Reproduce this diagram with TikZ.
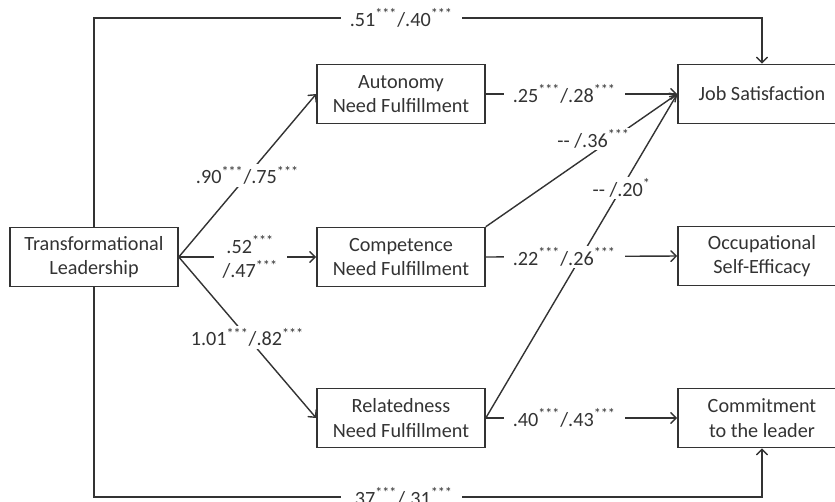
\documentclass[tikz,border=0pt]{standalone}
\usepackage{fontspec}
\setmainfont{Carlito}
\usepackage{tikz}
\usetikzlibrary{arrows}
\definecolor{inkgrey}{rgb}{0.2, 0.2, 0.2}

\begin{document}
\begin{tikzpicture}[x=0.2mm,y=-0.2mm,>=angle 90,
    every node/.style={font=\fontsize{11.5}{14}\selectfont,text=inkgrey},
    box/.style={draw=inkgrey,line width=0.9pt,align=center,minimum width=3.36cm,minimum height=1.18cm,inner sep=2pt},
    path/.style={draw=inkgrey,line width=0.8pt},
    lbl/.style={fill=white,align=center,inner xsep=5pt,inner ysep=1pt}
  ]
\useasboundingbox (0,0) rectangle (835,501);

% boxes
\node[box] (tl) at (94,257)  {Transformational\\Leadership};
\node[box] (au) at (401,94)  {Autonomy\\Need Fulfillment};
\node[box] (co) at (401,257) {Competence\\Need Fulfillment};
\node[box] (re) at (401,418) {Relatedness\\Need Fulfillment};
\node[box] (js) at (762,94)  {Job Satisfaction};
\node[box] (os) at (762,256) {Occupational\\Self-Efficacy};
\node[box] (cm) at (762,418) {Commitment\\to the leader};

\coordinate (tlup) at (94,18);
\coordinate (jsup) at (762,18);
\coordinate (tldown) at (94,497);
\coordinate (cmdown) at (762,497);

% direct paths
\draw[path,->] (tl.north) -- (tlup) -- node[lbl,pos=.46] {.51\textsuperscript{***}/.40\textsuperscript{***}} (jsup) -- (js.north);
\draw[path,->] (tl.south) -- (tldown) -- node[lbl,pos=.46] {.37\textsuperscript{***}/.31\textsuperscript{***}} (cmdown) -- (cm.south);

% a paths
\draw[path,->] (tl.east) -- node[lbl] {.90\textsuperscript{***}/.75\textsuperscript{***}} (au.west);
\draw[path,->] (tl.east) -- node[lbl,pos=.52] {.52\textsuperscript{***}\\/.47\textsuperscript{***}} (co.west);
\draw[path,->] (tl.east) -- node[lbl] {1.01\textsuperscript{***}/.82\textsuperscript{***}} (re.west);

% b paths
\draw[path,->] (co.north east) -- node[lbl,pos=.6,xshift=-4,yshift=4.5] {-{}- /.36\textsuperscript{***}} (js.west);
\draw[path,->] (re.east) -- node[lbl,pos=.71] {-{}- /.20\textsuperscript{*}} (js.west);
\draw[path,->] (au.east) -- node[lbl,pos=.41] {.25\textsuperscript{***}/.28\textsuperscript{***}} (js.west);
\draw[path,->] (co.east) -- node[lbl,pos=.41] {.22\textsuperscript{***}/.26\textsuperscript{***}} (os.west);
\draw[path,->] (re.east) -- node[lbl,pos=.41] {.40\textsuperscript{***}/.43\textsuperscript{***}} (cm.west);
\end{tikzpicture}
\end{document}
